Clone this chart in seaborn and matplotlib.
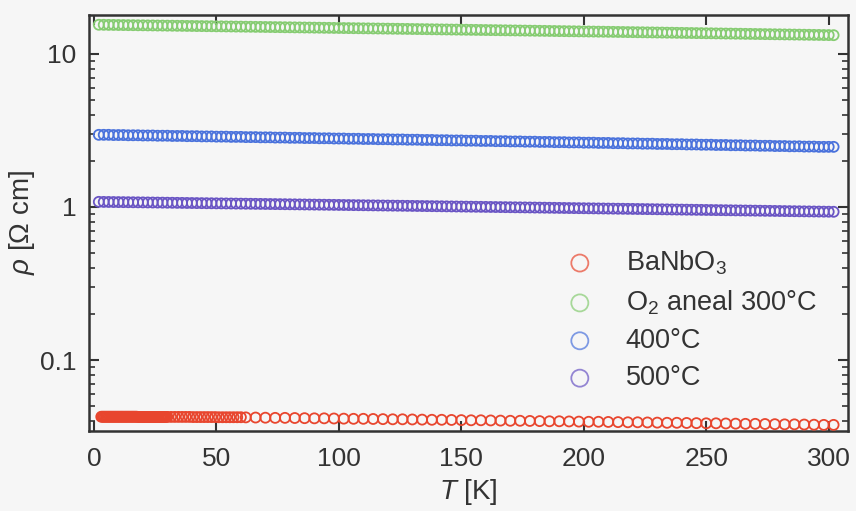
import numpy as np
import pandas as pd
import matplotlib
matplotlib.use("Agg")
import matplotlib.pyplot as plt
from matplotlib.ticker import LogLocator, FixedLocator, FuncFormatter, NullFormatter
import seaborn as sns

# Temperature grid (K) of the annealed films
T_fine = [2, 4, 6, 8, 10, 12, 14, 16, 18, 20, 22, 24, 26, 28, 30,
          32, 34, 36, 38, 40, 42, 44, 46, 48, 50, 52, 54, 56, 58, 60,
          62, 64, 66, 68, 70, 72, 74, 76, 78, 80, 82, 84, 86, 88, 90,
          92, 94, 96, 98, 100, 102, 104, 106, 108, 110, 112, 114, 116, 118, 120,
          122, 124, 126, 128, 130, 132, 134, 136, 138, 140, 142, 144, 146, 148, 150,
          152, 154, 156, 158, 160, 162, 164, 166, 168, 170, 172, 174, 176, 178, 180,
          182, 184, 186, 188, 190, 192, 194, 196, 198, 200, 202, 204, 206, 208, 210,
          212, 214, 216, 218, 220, 222, 224, 226, 228, 230, 232, 234, 236, 238, 240,
          242, 244, 246, 248, 250, 252, 254, 256, 258, 260, 262, 264, 266, 268, 270,
          272, 274, 276, 278, 280, 282, 284, 286, 288, 290, 292, 294, 296, 298, 300,
          302]

# As-grown BaNbO3: dense sweep at low temperature, sparser above 60 K
T_red = [3.0, 3.5, 4.0, 4.5, 5.0, 5.5, 6.0, 6.5, 7.0, 7.5, 8.0, 8.5, 9.0, 9.5, 10.0,
         10.5, 11.0, 11.5, 12.0, 12.5, 13.0, 13.5, 14.0, 14.5, 15.0, 15.5, 16.0, 16.5,
         17.0, 17.5, 18.0, 18.5, 19.0, 19.5, 20.0, 20.5, 21.0, 21.5, 22.0, 22.5, 23.0,
         23.5, 24.0, 24.5, 25.0, 25.5, 26.0, 26.5, 27.0, 27.5, 28.0, 28.5, 29.0, 29.5,
         30.0,
         31.5, 33.0, 34.5, 36.0, 37.5, 39.0, 40.5, 42.0, 43.5, 45.0, 46.5, 48.0, 49.5,
         51.0, 52.5, 54.0, 55.5, 57.0, 58.5, 60.0,
         62, 66, 70, 74, 78, 82, 86, 90, 94, 98, 102, 106, 110, 114, 118, 122, 126, 130,
         134, 138, 142, 146, 150, 154, 158, 162, 166, 170, 174, 178, 182, 186, 190, 194,
         198, 202, 206, 210, 214, 218, 222, 226, 230, 234, 238, 242, 246, 250, 254, 258,
         262, 266, 270, 274, 278, 282, 286, 290, 294, 298, 302]
rho_red = [0.0426, 0.0426, 0.0426, 0.0426, 0.0426, 0.0426, 0.0426, 0.0426, 0.0426, 0.0426,
           0.0426, 0.0426, 0.0426, 0.0426, 0.0426, 0.0426, 0.0426, 0.0426, 0.0426, 0.0426,
           0.0426, 0.0426, 0.0426, 0.0426, 0.0426, 0.0426, 0.0426, 0.0426, 0.0426, 0.0426,
           0.0425, 0.0425, 0.0425, 0.0425, 0.0425, 0.0425, 0.0425, 0.0425, 0.0425, 0.0425,
           0.0425, 0.0425, 0.0425, 0.0425, 0.0425, 0.0425, 0.0425, 0.0425, 0.0425, 0.0425,
           0.0425, 0.0425, 0.0425, 0.0425, 0.0425,
           0.0425, 0.0425, 0.0425, 0.0425, 0.0425, 0.0425, 0.0424, 0.0424, 0.0424, 0.0424,
           0.0424, 0.0424, 0.0424, 0.0423, 0.0423, 0.0423, 0.0423, 0.0423, 0.0423, 0.0423,
           0.0422,
           0.0421, 0.0420, 0.0419, 0.0419, 0.0418, 0.0417, 0.0416, 0.0416,
           0.0415, 0.0414, 0.0413, 0.0413, 0.0412, 0.0411, 0.0410, 0.0410,
           0.0409, 0.0408, 0.0407, 0.0407, 0.0406, 0.0405, 0.0404, 0.0404,
           0.0403, 0.0402, 0.0401, 0.0401, 0.0400, 0.0399, 0.0398, 0.0398,
           0.0397, 0.0396, 0.0395, 0.0395, 0.0394, 0.0393, 0.0392, 0.0392,
           0.0391, 0.0390, 0.0389, 0.0389, 0.0388, 0.0387, 0.0386, 0.0386,
           0.0385, 0.0384, 0.0383, 0.0383, 0.0382, 0.0381, 0.0380, 0.0380,
           0.0379, 0.0378, 0.0377, 0.0377]

rho_green = [15.50, 15.49, 15.47, 15.46, 15.44, 15.43, 15.41, 15.40, 15.38, 15.37,
             15.35, 15.34, 15.32, 15.31, 15.29, 15.28, 15.26, 15.25, 15.23, 15.22,
             15.20, 15.19, 15.17, 15.16, 15.14, 15.13, 15.11, 15.10, 15.08, 15.07,
             15.05, 15.04, 15.02, 15.01, 14.99, 14.98, 14.96, 14.95, 14.93, 14.92,
             14.90, 14.89, 14.87, 14.86, 14.84, 14.83, 14.81, 14.80, 14.78, 14.77,
             14.75, 14.74, 14.72, 14.71, 14.69, 14.68, 14.66, 14.65, 14.63, 14.62,
             14.60, 14.59, 14.57, 14.56, 14.54, 14.53, 14.51, 14.50, 14.48, 14.47,
             14.45, 14.44, 14.42, 14.41, 14.39, 14.38, 14.36, 14.35, 14.33, 14.32,
             14.30, 14.29, 14.27, 14.26, 14.24, 14.23, 14.21, 14.20, 14.18, 14.17,
             14.15, 14.14, 14.12, 14.11, 14.09, 14.08, 14.06, 14.05, 14.03, 14.02,
             14.00, 13.99, 13.97, 13.96, 13.94, 13.93, 13.91, 13.90, 13.88, 13.87,
             13.85, 13.84, 13.82, 13.81, 13.79, 13.78, 13.76, 13.75, 13.73, 13.72,
             13.70, 13.69, 13.67, 13.66, 13.64, 13.63, 13.61, 13.60, 13.58, 13.57,
             13.55, 13.54, 13.52, 13.51, 13.49, 13.48, 13.46, 13.45, 13.43, 13.42,
             13.40, 13.39, 13.37, 13.36, 13.34, 13.33, 13.31, 13.30, 13.28, 13.27,
             13.25]

rho_blue = [2.96, 2.96, 2.96, 2.95, 2.95, 2.95, 2.94, 2.94, 2.94, 2.93, 2.93, 2.93, 2.92, 2.92, 2.92,
            2.91, 2.91, 2.91, 2.90, 2.90, 2.90, 2.89, 2.89, 2.89, 2.88, 2.88, 2.88, 2.87, 2.87, 2.87,
            2.86, 2.86, 2.86, 2.85, 2.85, 2.85, 2.84, 2.84, 2.84, 2.83, 2.83, 2.83, 2.82, 2.82, 2.82,
            2.81, 2.81, 2.81, 2.80, 2.80, 2.80, 2.79, 2.79, 2.79, 2.78, 2.78, 2.78, 2.77, 2.77, 2.77,
            2.76, 2.76, 2.76, 2.75, 2.75, 2.75, 2.74, 2.74, 2.74, 2.73, 2.73, 2.73, 2.72, 2.72, 2.72,
            2.71, 2.71, 2.71, 2.70, 2.70, 2.70, 2.69, 2.69, 2.69, 2.68, 2.68, 2.68, 2.67, 2.67, 2.67,
            2.66, 2.66, 2.66, 2.65, 2.65, 2.65, 2.64, 2.64, 2.64, 2.63, 2.63, 2.63, 2.62, 2.62, 2.62,
            2.61, 2.61, 2.61, 2.60, 2.60, 2.60, 2.59, 2.59, 2.59, 2.58, 2.58, 2.58, 2.57, 2.57, 2.57,
            2.56, 2.56, 2.56, 2.55, 2.55, 2.55, 2.54, 2.54, 2.54, 2.53, 2.53, 2.53, 2.52, 2.52, 2.52,
            2.51, 2.51, 2.51, 2.50, 2.50, 2.50, 2.49, 2.49, 2.49, 2.48, 2.48, 2.48, 2.47, 2.47, 2.47,
            2.47]

rho_purple = [1.080, 1.079, 1.078, 1.077, 1.076, 1.075, 1.074, 1.073, 1.072, 1.071, 1.070, 1.069, 1.068, 1.067, 1.066,
              1.065, 1.064, 1.063, 1.062, 1.061, 1.060, 1.059, 1.058, 1.057, 1.056, 1.055, 1.054, 1.053, 1.052, 1.051,
              1.050, 1.049, 1.048, 1.047, 1.046, 1.045, 1.044, 1.043, 1.042, 1.041, 1.040, 1.039, 1.038, 1.037, 1.036,
              1.035, 1.034, 1.033, 1.032, 1.031, 1.030, 1.029, 1.028, 1.027, 1.026, 1.025, 1.024, 1.023, 1.022, 1.021,
              1.020, 1.019, 1.018, 1.017, 1.016, 1.015, 1.014, 1.013, 1.012, 1.011, 1.010, 1.009, 1.008, 1.007, 1.006,
              1.005, 1.004, 1.003, 1.002, 1.001, 1.000, 0.999, 0.998, 0.997, 0.996, 0.995, 0.994, 0.993, 0.992, 0.991,
              0.990, 0.989, 0.988, 0.987, 0.986, 0.985, 0.984, 0.983, 0.982, 0.981, 0.980, 0.979, 0.978, 0.977, 0.976,
              0.975, 0.974, 0.973, 0.972, 0.971, 0.970, 0.969, 0.968, 0.967, 0.966, 0.965, 0.964, 0.963, 0.962, 0.961,
              0.960, 0.959, 0.958, 0.957, 0.956, 0.955, 0.954, 0.953, 0.952, 0.951, 0.950, 0.949, 0.948, 0.947, 0.946,
              0.945, 0.944, 0.943, 0.942, 0.941, 0.940, 0.939, 0.938, 0.937, 0.936, 0.935, 0.934, 0.933, 0.932, 0.931,
              0.930]

labels = ["BaNbO$_3$", "O$_2$ aneal 300°C", "400°C", "500°C"]
colors = ["#e8462e", "#86cc72", "#4a72dc", "#6a55c4"]
x_ticks = [0, 50, 100, 150, 200, 250, 300]
y_ticks = [0.1, 1, 10]

sns.set_theme(style="ticks")
plt.rcParams["font.family"] = ["Liberation Sans", "DejaVu Sans"]
plt.rcParams["mathtext.fontset"] = "custom"
plt.rcParams["mathtext.rm"] = "Liberation Sans"
plt.rcParams["mathtext.it"] = "Liberation Sans:italic"

bg = "#f6f6f6"
ink = "#333333"
fig = plt.figure(figsize=(8.56, 5.11), dpi=100, facecolor=bg)
ax = fig.add_axes([0.104, 0.157, 0.887, 0.814], facecolor=bg)

series = [
    (T_red, rho_red),
    (T_fine, rho_green),
    (T_fine, rho_blue),
    (T_fine, rho_purple),
]
for (t, r), lab, c in zip(series, labels, colors):
    df = pd.DataFrame({"T": t, "rho": r})
    sns.scatterplot(data=df, x="T", y="rho", ax=ax, marker="o", s=52,
                    facecolors="none", edgecolor=c, linewidth=1.3, label=lab,
                    zorder=3)

ax.set_yscale("log")
ax.set_xlim(-2, 308)
ax.set_ylim(0.0345, 18.0)

ax.xaxis.set_major_locator(FixedLocator(x_ticks))
ax.yaxis.set_major_locator(FixedLocator(y_ticks))
ax.yaxis.set_major_formatter(FuncFormatter(lambda v, p: f"{v:g}"))
ax.yaxis.set_minor_locator(LogLocator(base=10, subs=np.arange(2, 10), numticks=20))
ax.yaxis.set_minor_formatter(NullFormatter())

ax.tick_params(axis="both", which="both", direction="in", top=True, right=True,
               color=ink, labelcolor=ink, labelsize=19)
ax.tick_params(axis="both", which="major", length=7, width=1.5, pad=9)
ax.tick_params(axis="x", which="major", pad=12)
ax.tick_params(axis="y", which="minor", length=4, width=1.2)
for sp in ax.spines.values():
    sp.set_color(ink)
    sp.set_linewidth(1.8)

ax.set_xlabel("$\\mathit{T}$ [K]", fontsize=20, color=ink, labelpad=4)
ax.set_ylabel("$\\mathit{\\rho}$ [\u03a9 cm]", fontsize=20, color=ink, labelpad=2)

leg = ax.legend(loc="center left", bbox_to_anchor=(0.625, 0.267), frameon=False,
                fontsize=19.5, handlelength=1.2, handletextpad=1.1, labelspacing=0.42,
                markerscale=1.7, borderpad=0, borderaxespad=0)
for h in leg.legend_handles:
    h.set_alpha(0.7)
for txt in leg.get_texts():
    txt.set_color(ink)

fig.savefig("out.png", dpi=100, facecolor=bg)
